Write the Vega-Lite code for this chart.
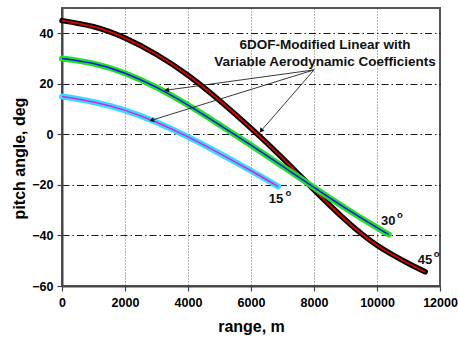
{
  "$schema": "https://vega.github.io/schema/vega-lite/v6.json",
  "width": 378,
  "height": 278,
  "autosize": {"type": "none"},
  "padding": {"left": 62, "top": 8, "right": 18, "bottom": 51},
  "background": "white",
  "config": {
    "view": {"stroke": "#555", "strokeWidth": 2},
    "font": "Liberation Sans",
    "axis": {
      "labelFont": "Liberation Sans",
      "labelFontWeight": "bold",
      "labelFontSize": 12.5,
      "labelColor": "black",
      "titleFont": "Liberation Sans",
      "titleFontWeight": "bold",
      "titleFontSize": 16,
      "titleColor": "black",
      "domainColor": "#444",
      "domainWidth": 2,
      "tickColor": "#444",
      "tickWidth": 1.2
    }
  },
  "datasets": {
    "curves": [
      {"angle": "45", "range": 0, "pitch": 45},
      {"angle": "45", "range": 1000, "pitch": 42.6},
      {"angle": "45", "range": 2000, "pitch": 38.1},
      {"angle": "45", "range": 3000, "pitch": 31.6},
      {"angle": "45", "range": 4000, "pitch": 23.4},
      {"angle": "45", "range": 5000, "pitch": 13.4},
      {"angle": "45", "range": 6000, "pitch": 2.4},
      {"angle": "45", "range": 7000, "pitch": -9.4},
      {"angle": "45", "range": 8000, "pitch": -21.9},
      {"angle": "45", "range": 9000, "pitch": -33.9},
      {"angle": "45", "range": 10000, "pitch": -43.9},
      {"angle": "45", "range": 11000, "pitch": -51.1},
      {"angle": "45", "range": 11530, "pitch": -54.4},
      {"angle": "30", "range": 0, "pitch": 30},
      {"angle": "30", "range": 1000, "pitch": 28},
      {"angle": "30", "range": 2000, "pitch": 24.2},
      {"angle": "30", "range": 3000, "pitch": 18.6},
      {"angle": "30", "range": 4000, "pitch": 11.6},
      {"angle": "30", "range": 5000, "pitch": 3.8},
      {"angle": "30", "range": 6000, "pitch": -4.3},
      {"angle": "30", "range": 7000, "pitch": -12.6},
      {"angle": "30", "range": 8000, "pitch": -21},
      {"angle": "30", "range": 9000, "pitch": -29.2},
      {"angle": "30", "range": 10000, "pitch": -36.9},
      {"angle": "30", "range": 10370, "pitch": -39.6},
      {"angle": "15", "range": 0, "pitch": 15},
      {"angle": "15", "range": 1000, "pitch": 12.8},
      {"angle": "15", "range": 2000, "pitch": 9.5},
      {"angle": "15", "range": 3000, "pitch": 4.8},
      {"angle": "15", "range": 4000, "pitch": -1},
      {"angle": "15", "range": 5000, "pitch": -7.5},
      {"angle": "15", "range": 6000, "pitch": -14.4},
      {"angle": "15", "range": 6860, "pitch": -20.6}
    ],
    "arrows": [
      {"id": "a", "x": 8000, "y": 25.5, "x2": 3324, "y2": 17.5},
      {"id": "b", "x": 8000, "y": 25.5, "x2": 2848, "y2": 5.6},
      {"id": "c", "x": 8000, "y": 25.5, "x2": 6320, "y2": 1.4}
    ],
    "notes": [
      {"text": "6DOF-Modified Linear with", "x": 8350, "y": 35.4},
      {"text": "Variable Aerodynamic Coefficients", "x": 8350, "y": 28.6}
    ],
    "labels": [
      {"num": "15", "x": 6794, "y": -25.5, "ox": 7185, "oy": -23.1},
      {"num": "30", "x": 10359, "y": -34.3, "ox": 10730, "oy": -32.1},
      {"num": "45", "x": 11524, "y": -49.6, "ox": 11894, "oy": -47.3}
    ]
  },
  "layer": [
    {
      "data": {"name": "curves"},
      "transform": [{"filter": "datum.angle == '45'"}],
      "mark": {"type": "line", "color": "black", "strokeWidth": 5.5, "strokeCap": "round", "interpolate": "natural"},
      "encoding": {
        "x": {
          "field": "range", "type": "quantitative",
          "scale": {"domain": [0, 12000], "nice": false},
          "axis": {
            "title": "range, m",
            "titleY": 40,
            "titleBaseline": "middle",
            "values": [0, 1000, 2000, 3000, 4000, 5000, 6000, 7000, 8000, 9000, 10000, 11000, 12000],
            "format": "d",
            "labelExpr": "datum.value % 2000 == 0 ? datum.label : ''",
            "labelPadding": 5,
            "labelFlush": false,
            "labelOverlap": false,
            "tickSize": {"condition": {"test": "datum.value % 2000 != 0", "value": 3}, "value": 5},
            "grid": true,
            "gridColor": "#444",
            "gridWidth": 0.8,
            "gridDash": [1, 2],
            "gridOpacity": {"condition": {"test": "datum.value % 2000 != 0 || datum.value == 0 || datum.value == 12000", "value": 0}, "value": 1}
          }
        },
        "y": {
          "field": "pitch", "type": "quantitative",
          "scale": {"domain": [-60, 50], "nice": false},
          "axis": {
            "title": "pitch angle, deg",
            "titleX": -43,
            "titleY": 150,
            "titleAlign": "center",
            "titleBaseline": "middle",
            "values": [-60, -50, -40, -30, -20, -10, 0, 10, 20, 30, 40],
            "labelExpr": "datum.value % 20 == 0 ? datum.label : ''",
            "labelPadding": 4,
            "labelFlush": false,
            "labelOverlap": false,
            "tickSize": {"condition": {"test": "datum.value % 20 != 0", "value": 3}, "value": 5},
            "grid": true,
            "gridColor": "black",
            "gridWidth": 0.9,
            "gridDash": [7, 3, 1.5, 3],
            "gridOpacity": {"condition": {"test": "datum.value % 20 != 0 || datum.value == -60", "value": 0}, "value": 1}
          }
        }
      }
    },
    {
      "data": {"name": "curves"},
      "transform": [{"filter": "datum.angle == '45'"}],
      "mark": {"type": "line", "color": "#e00000", "strokeWidth": 1.8, "interpolate": "natural"},
      "encoding": {"x": {"field": "range", "type": "quantitative"}, "y": {"field": "pitch", "type": "quantitative"}}
    },
    {
      "data": {"name": "curves"},
      "transform": [{"filter": "datum.angle == '30'"}],
      "mark": {"type": "line", "color": "#22e022", "strokeWidth": 6, "strokeCap": "round", "interpolate": "natural"},
      "encoding": {"x": {"field": "range", "type": "quantitative"}, "y": {"field": "pitch", "type": "quantitative"}}
    },
    {
      "data": {"name": "curves"},
      "transform": [{"filter": "datum.angle == '30'"}],
      "mark": {"type": "line", "color": "#1010ff", "strokeWidth": 1.5, "interpolate": "natural"},
      "encoding": {"x": {"field": "range", "type": "quantitative"}, "y": {"field": "pitch", "type": "quantitative"}}
    },
    {
      "data": {"name": "curves"},
      "transform": [{"filter": "datum.angle == '15'"}],
      "mark": {"type": "line", "color": "#33ddff", "strokeWidth": 6, "strokeCap": "round", "interpolate": "natural"},
      "encoding": {"x": {"field": "range", "type": "quantitative"}, "y": {"field": "pitch", "type": "quantitative"}}
    },
    {
      "data": {"name": "curves"},
      "transform": [{"filter": "datum.angle == '15'"}],
      "mark": {"type": "line", "color": "#e020e0", "strokeWidth": 1.5, "interpolate": "natural"},
      "encoding": {"x": {"field": "range", "type": "quantitative"}, "y": {"field": "pitch", "type": "quantitative"}}
    },
    {
      "data": {"name": "arrows"},
      "mark": {"type": "rule", "color": "#222", "strokeWidth": 0.9},
      "encoding": {
        "x": {"field": "x", "type": "quantitative"},
        "y": {"field": "y", "type": "quantitative"},
        "x2": {"field": "x2"},
        "y2": {"field": "y2"}
      }
    },
    {
      "data": {"name": "arrows"},
      "transform": [{"filter": "datum.id == 'a'"}],
      "mark": {"type": "point", "shape": "triangle-up", "filled": true, "color": "#111", "size": 28, "angle": 262, "opacity": 1},
      "encoding": {"x": {"field": "x2", "type": "quantitative"}, "y": {"field": "y2", "type": "quantitative"}}
    },
    {
      "data": {"name": "arrows"},
      "transform": [{"filter": "datum.id == 'b'"}],
      "mark": {"type": "point", "shape": "triangle-up", "filled": true, "color": "#111", "size": 28, "angle": 253, "opacity": 1},
      "encoding": {"x": {"field": "x2", "type": "quantitative"}, "y": {"field": "y2", "type": "quantitative"}}
    },
    {
      "data": {"name": "arrows"},
      "transform": [{"filter": "datum.id == 'c'"}],
      "mark": {"type": "point", "shape": "triangle-up", "filled": true, "color": "#111", "size": 28, "angle": 220, "opacity": 1},
      "encoding": {"x": {"field": "x2", "type": "quantitative"}, "y": {"field": "y2", "type": "quantitative"}}
    },
    {
      "data": {"name": "notes"},
      "mark": {"type": "text", "font": "Liberation Sans", "fontWeight": "bold", "fontSize": 13.5, "color": "#111", "align": "center", "baseline": "middle"},
      "encoding": {
        "x": {"field": "x", "type": "quantitative"},
        "y": {"field": "y", "type": "quantitative"},
        "text": {"field": "text"}
      }
    },
    {
      "data": {"name": "labels"},
      "mark": {"type": "text", "font": "Liberation Sans", "fontWeight": "bold", "fontSize": 13, "color": "#111", "align": "center", "baseline": "middle"},
      "encoding": {
        "x": {"field": "x", "type": "quantitative"},
        "y": {"field": "y", "type": "quantitative"},
        "text": {"field": "num"}
      }
    },
    {
      "data": {"name": "labels"},
      "mark": {"type": "text", "font": "Liberation Sans", "fontWeight": "bold", "fontSize": 9.5, "color": "#111", "align": "center", "baseline": "middle"},
      "encoding": {
        "x": {"field": "ox", "type": "quantitative"},
        "y": {"field": "oy", "type": "quantitative"},
        "text": {"value": "o"}
      }
    }
  ]
}
